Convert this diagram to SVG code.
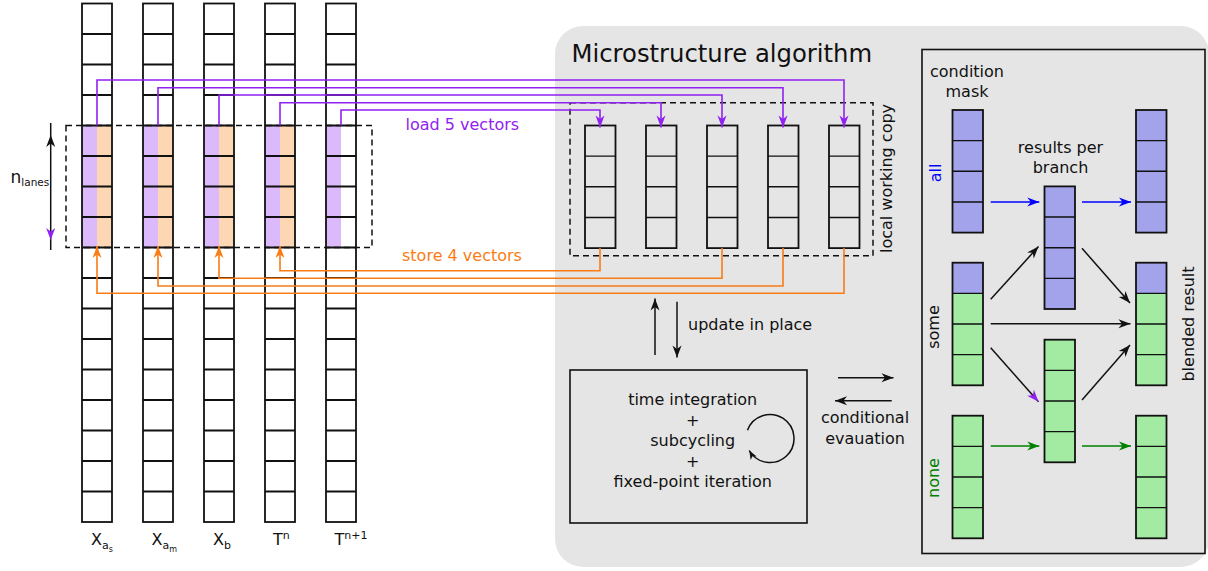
<svg xmlns="http://www.w3.org/2000/svg" xmlns:xlink="http://www.w3.org/1999/xlink" width="1208" height="571" viewBox="0 0 1208 571">
  <style>
    text { font-family: "DejaVu Sans", "Liberation Sans", sans-serif; font-size: 16px; fill: #111111; }
    .c { text-anchor: middle; }
    .grid { fill: none; stroke: #111111; stroke-width: 1.8; }
    .thin { fill: none; stroke: #111111; stroke-width: 1.4; }
    .dash { fill: none; stroke: #111111; stroke-width: 1.5; stroke-dasharray: 6 4; }
    .box { fill: none; stroke: #111111; stroke-width: 1.6; }
    .ld { fill: none; stroke: #9121f2; stroke-width: 1.6; marker-end: url(#ah-purple); }
    .st { fill: none; stroke: #f97c14; stroke-width: 1.6; marker-end: url(#ah-orange); }
    .ak { fill: none; stroke: #111111; stroke-width: 1.5; marker-end: url(#ah-black); }
    .ab { fill: none; stroke: #0000ff; stroke-width: 1.5; marker-end: url(#ah-blue); }
    .ag { fill: none; stroke: #008000; stroke-width: 1.5; marker-end: url(#ah-green); }
    .pv { fill: #a3a3ec; }
    .gr { fill: #a3eba3; }
    .lp { fill: #dcb9fb; }
    .lo { fill: #fdd6b4; }
  </style>
  <defs>
    <marker id="ah-purple" viewBox="-13 -5 14 10" refX="0" refY="0" markerWidth="14" markerHeight="10" orient="auto" markerUnits="userSpaceOnUse">
      <path d="M0,0 L-12,-4.5 L-8.5,0 L-12,4.5 Z" fill="#9121f2"/>
    </marker>
    <marker id="ah-orange" viewBox="-13 -5 14 10" refX="0" refY="0" markerWidth="14" markerHeight="10" orient="auto" markerUnits="userSpaceOnUse">
      <path d="M0,0 L-12,-4.5 L-8.5,0 L-12,4.5 Z" fill="#f97c14"/>
    </marker>
    <marker id="ah-black" viewBox="-13 -5 14 10" refX="0" refY="0" markerWidth="14" markerHeight="10" orient="auto-start-reverse" markerUnits="userSpaceOnUse">
      <path d="M0,0 L-12,-4.5 L-8.5,0 L-12,4.5 Z" fill="#111111"/>
    </marker>
    <marker id="ah-black-s" viewBox="-10 -4 11 8" refX="0" refY="0" markerWidth="11" markerHeight="8" orient="auto" markerUnits="userSpaceOnUse">
      <path d="M0,0 L-9,-3.5 L-6.5,0 L-9,3.5 Z" fill="#111111"/>
    </marker>
    <marker id="ah-blue" viewBox="-13 -5 14 10" refX="0" refY="0" markerWidth="14" markerHeight="10" orient="auto" markerUnits="userSpaceOnUse">
      <path d="M0,0 L-12,-4.5 L-8.5,0 L-12,4.5 Z" fill="#0000ff"/>
    </marker>
    <marker id="ah-green" viewBox="-13 -5 14 10" refX="0" refY="0" markerWidth="14" markerHeight="10" orient="auto" markerUnits="userSpaceOnUse">
      <path d="M0,0 L-12,-4.5 L-8.5,0 L-12,4.5 Z" fill="#008000"/>
    </marker>

    <!-- 17-entry data array column, 30 wide -->
    <g id="lane-col">
      <rect x="0" y="3.5" width="30" height="518.5" class="grid"/>
      <path class="grid" d="M0,34h30M0,64.5h30M0,95h30M0,125.5h30M0,156h30M0,186.5h30M0,217h30M0,247.5h30M0,278h30M0,308.5h30M0,339h30M0,369.5h30M0,400h30M0,430.5h30M0,461h30M0,491.5h30"/>
    </g>
    <!-- 4-entry SIMD register -->
    <g id="vec4">
      <rect x="0" y="0" width="30.5" height="122.6" class="grid"/>
      <path class="thin" d="M0,30.65h30.5M0,61.3h30.5M0,91.95h30.5"/>
    </g>
  </defs>

  <!-- algorithm panel background -->
  <rect id="panel" x="555" y="26" width="654" height="541" rx="28" ry="28" fill="#e5e5e5"/>
  <text x="571.5" y="62" style="font-size:24.3px">Microstructure algorithm</text>

  <!-- global arrays -->
  <g id="col-xas">
    <rect class="lp" x="82" y="125.5" width="15" height="122"/>
    <rect class="lo" x="97" y="125.5" width="15" height="122"/>
    <use xlink:href="#lane-col" x="82"/>
    <text x="91" y="545">X<tspan style="font-size:11px" dy="4">a</tspan><tspan style="font-size:8px" dy="3">s</tspan></text>
  </g>
  <g id="col-xam">
    <rect class="lp" x="143" y="125.5" width="15" height="122"/>
    <rect class="lo" x="158" y="125.5" width="15" height="122"/>
    <use xlink:href="#lane-col" x="143"/>
    <text x="151.5" y="545">X<tspan style="font-size:11px" dy="4">a</tspan><tspan style="font-size:8px" dy="3">m</tspan></text>
  </g>
  <g id="col-xb">
    <rect class="lp" x="204" y="125.5" width="15" height="122"/>
    <rect class="lo" x="219" y="125.5" width="15" height="122"/>
    <use xlink:href="#lane-col" x="204"/>
    <text x="213" y="545">X<tspan style="font-size:11px" dy="4">b</tspan></text>
  </g>
  <g id="col-tn">
    <rect class="lp" x="265" y="125.5" width="15" height="122"/>
    <rect class="lo" x="280" y="125.5" width="15" height="122"/>
    <use xlink:href="#lane-col" x="265"/>
    <text x="273" y="545">T<tspan style="font-size:11px" dy="-6">n</tspan></text>
  </g>
  <g id="col-tn1">
    <rect class="lp" x="326" y="125.5" width="15" height="122"/>
    <use xlink:href="#lane-col" x="326"/>
    <text x="334.5" y="545">T<tspan style="font-size:11px" dy="-6">n+1</tspan></text>
  </g>

  <!-- chunk of n_lanes entries -->
  <g id="lane-chunk">
    <rect class="dash" x="66" y="125.5" width="306" height="122"/>
    <path d="M50.7,135 V240" fill="none" stroke="#111111" stroke-width="1.5" marker-start="url(#ah-black)" marker-end="url(#ah-purple)"/>
    <path d="M50.7,123 V135 M50.7,240 V250" fill="none" stroke="#111111" stroke-width="1.5"/>
    <text x="10.5" y="183" style="font-size:17px">n<tspan style="font-size:10.5px" dy="3">lanes</tspan></text>
  </g>

  <!-- local working copy of the vectors -->
  <g id="local-copy">
    <rect class="dash" x="570" y="102.7" width="303" height="153"/>
    <use xlink:href="#vec4" x="585" y="125.5"/>
    <use xlink:href="#vec4" x="646" y="125.5"/>
    <use xlink:href="#vec4" x="707" y="125.5"/>
    <use xlink:href="#vec4" x="768" y="125.5"/>
    <use xlink:href="#vec4" x="829" y="125.5"/>
    <text class="c" transform="translate(892,178.5) rotate(-90)">local working copy</text>
  </g>

  <!-- time integration kernel -->
  <g id="kernel">
    <rect class="box" x="570" y="370" width="237" height="153"/>
    <text class="c" x="692.7" y="405">time integration</text>
    <text class="c" x="692.7" y="425.5">+</text>
    <text class="c" x="692.7" y="446">subcycling</text>
    <text class="c" x="692.7" y="466.5">+</text>
    <text class="c" x="692.7" y="487">fixed-point iteration</text>
    <path d="M747.45,430.3 A24,24 0 1 1 749.2,450.5" fill="none" stroke="#111111" stroke-width="1.5" marker-end="url(#ah-black-s)"/>
  </g>

  <!-- branch blending panel -->
  <g id="blend-panel">
    <rect class="box" x="922" y="49.5" width="283" height="504"/>
    <text class="c" x="967" y="77">condition</text>
    <text class="c" x="967" y="97">mask</text>
    <text class="c" x="1060.5" y="153">results per</text>
    <text class="c" x="1060.5" y="173">branch</text>
    <text class="c" transform="translate(941,173) rotate(-90)" style="fill:#0000ff">all</text>
    <text class="c" transform="translate(938.5,327) rotate(-90)">some</text>
    <text class="c" transform="translate(938.5,478) rotate(-90)" style="fill:#008000">none</text>
    <text class="c" transform="translate(1194,324) rotate(-90)">blended result</text>
  </g>
  <g id="mask-all">
    <rect class="pv" x="952.5" y="110" width="30.5" height="122.6"/>
    <use xlink:href="#vec4" x="952.5" y="110"/>
  </g>
  <g id="mask-some">
    <rect class="pv" x="952.5" y="262.7" width="30.5" height="30.65"/>
    <rect class="gr" x="952.5" y="293.35" width="30.5" height="91.95"/>
    <use xlink:href="#vec4" x="952.5" y="262.7"/>
  </g>
  <g id="mask-none">
    <rect class="gr" x="952.5" y="415.7" width="30.5" height="122.6"/>
    <use xlink:href="#vec4" x="952.5" y="415.7"/>
  </g>
  <g id="branch-true">
    <rect class="pv" x="1044.5" y="186.4" width="30.5" height="122.6"/>
    <use xlink:href="#vec4" x="1044.5" y="186.4"/>
  </g>
  <g id="branch-false">
    <rect class="gr" x="1044.5" y="339.7" width="30.5" height="122.6"/>
    <use xlink:href="#vec4" x="1044.5" y="339.7"/>
  </g>
  <g id="result-all">
    <rect class="pv" x="1136" y="110" width="30.5" height="122.6"/>
    <use xlink:href="#vec4" x="1136" y="110"/>
  </g>
  <g id="result-some">
    <rect class="pv" x="1136" y="262.7" width="30.5" height="30.65"/>
    <rect class="gr" x="1136" y="293.35" width="30.5" height="91.95"/>
    <use xlink:href="#vec4" x="1136" y="262.7"/>
  </g>
  <g id="result-none">
    <rect class="gr" x="1136" y="415.7" width="30.5" height="122.6"/>
    <use xlink:href="#vec4" x="1136" y="415.7"/>
  </g>

  <!-- connectors -->
  <g id="connectors">
    <!-- load 5 vectors -->
    <path class="ld" d="M97,125.5 V80 H844 V127.5"/>
    <path class="ld" d="M158,125.5 V87.7 H783 V127.5"/>
    <path class="ld" d="M219,125.5 V95 H722 V127.5"/>
    <path class="ld" d="M280,125.5 V102.7 H661 V127.5"/>
    <path class="ld" d="M341,125.5 V110 H600 V127.5"/>
    <text x="405.5" y="130" style="fill:#9121f2">load 5 vectors</text>
    <!-- store 4 vectors -->
    <path class="st" d="M600,248 V270.7 H280 V246"/>
    <path class="st" d="M722,248 V278.3 H219 V246"/>
    <path class="st" d="M783,248 V286 H158 V246"/>
    <path class="st" d="M844,248 V293.3 H97 V246"/>
    <text x="402" y="261" style="fill:#f97c14">store 4 vectors</text>
    <!-- update in place -->
    <path class="ak" d="M655,355 V298.5"/>
    <path class="ak" d="M677,301.7 V357.5"/>
    <text x="688" y="330">update in place</text>
    <!-- conditional evaluation -->
    <path class="ak" d="M838,377.7 H893.5"/>
    <path class="ak" d="M891.7,400.7 H835"/>
    <text class="c" x="865" y="423">conditional</text>
    <text class="c" x="865" y="443.5">evauation</text>
    <!-- branch flows -->
    <path class="ab" d="M990.7,202 H1039.3"/>
    <path class="ab" d="M1082,202 H1131"/>
    <path class="ak" d="M990.7,299.3 L1038.5,246.5"/>
    <path class="ak" d="M1082,248.3 L1130,303"/>
    <path class="ak" d="M990.7,323.7 H1130.5"/>
    <path d="M990.7,347.7 L1038.5,401.7" fill="none" stroke="#111111" stroke-width="1.5" marker-end="url(#ah-purple)"/>
    <path class="ak" d="M1082,400 L1130,345"/>
    <path class="ag" d="M990.7,446 H1039.3"/>
    <path class="ag" d="M1082,446 H1131"/>
  </g>
</svg>
